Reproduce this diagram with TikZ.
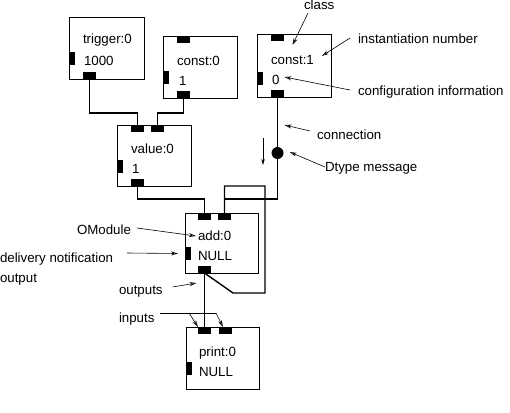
\documentclass[tikz,border=0pt]{standalone}
\usepackage{fontspec}
\setmainfont{Liberation Sans}
\usetikzlibrary{arrows.meta}
\begin{document}
\begin{tikzpicture}[x=1pt,y=-1pt,
  box/.style={draw, line width=0.8pt, anchor=north west, inner sep=0pt, outer sep=0pt},
  port/.style={fill=black, draw=none, anchor=north west, inner sep=0pt, outer sep=0pt, minimum width=13pt, minimum height=7pt},
  lport/.style={port, minimum width=6pt, minimum height=13pt},
  txt/.style={anchor=base west, inner sep=0pt, outer sep=0pt, font=\fontsize{13.3}{16}\selectfont},
  wire/.style={line width=1.4pt},
  pointer/.style={line width=0.6pt, -{Stealth[open, length=7pt, width=4pt]}},
  plain/.style={line width=0.6pt}]
\useasboundingbox (0,0) rectangle (510,412);

% ---------- boxes ----------
\node[box, minimum width=75pt, minimum height=62pt] (trig) at (69,17) {};
\node[box, minimum width=74pt, minimum height=62pt] (cz) at (163,36) {};
\node[box, minimum width=74pt, minimum height=61pt] (val) at (117,125) {};
\node[box, minimum width=74pt, minimum height=63pt] (co) at (257,34) {};
\node[box, minimum width=73pt, minimum height=60pt] (add) at (185,213) {};
\node[box, minimum width=73pt, minimum height=62pt] (prt) at (186,327) {};

% ---------- ports ----------
\node[lport] (trigL) at (69,52) {};
\node[port] (trigO) at (83,72) {};

\node[port] (czI) at (177,36) {};
\node[lport] (czL) at (163,71) {};
\node[port] (czO) at (177,91) {};

\node[port] (valI1) at (131,125) {};
\node[port] (valI2) at (151,125) {};
\node[lport] (valL) at (117,160) {};
\node[port] (valO) at (131,179) {};

\node[port] (coI) at (271,34) {};
\node[lport] (coL) at (257,72) {};
\node[port] (coO) at (271,90) {};

\node[port] (addI1) at (198,213) {};
\node[port] (addI2) at (218,213) {};
\node[lport] (addL) at (185,247) {};
\node[port] (addO) at (198,266) {};

\node[port] (prtI1) at (198,327) {};
\node[port] (prtI2) at (219,327) {};
\node[lport] (prtL) at (186,362) {};

% ---------- box texts ----------
\node[txt] (t1) at (83,44) {trigger:0};
\node[txt] (t2) at (84,65) {1000};
\node[txt] (t3) at (177,65) {const:0};
\node[txt] (t4) at (179,85) {1};
\node[txt] (t5) at (131,153) {value:0};
\node[txt] (t6) at (132,173) {1};
\node[txt] (t7) at (271,64) {const:1};
\node[txt] (t8) at (272,84) {0};
\node[txt] (t9) at (198,240) {add:0};
\node[txt] (t10) at (198,260) {NULL};
\node[txt] (t11) at (199,356) {print:0};
\node[txt] (t12) at (199,376) {NULL};

% ---------- connections ----------
\draw[wire] (trigO.south) -- ++(0,34) -| (valI1.north);
\draw[wire] (czO.south) -- ++(0,15) -| (valI2.north);
\draw[wire] (valO.south) -- ++(0,13) -| (addI1.north);
\draw[wire] (coO.south) -- ++(0,102) -| (addI2.north);
\coordinate (k1) at (233,293);
\coordinate (k2) at (265,186);
\draw[wire] (addO.south) -- (k1) -| (k2) -| (addI2.north);
\draw[wire] (addO.south) -- (prtI1.north);
\node[circle, fill=black, minimum size=12pt, inner sep=0pt] (msg) at (277.5,153) {};

% ---------- flow arrow ----------
\coordinate (fa) at (263,138);
\coordinate (fb) at (263,165);
\draw[line width=0.6pt, -{Stealth[length=6pt, width=3.5pt]}] (fa) -- (fb);

% ---------- annotation labels ----------
\node[txt] (cls) at (304,10) {class};
\node[txt] (inum) at (358,43) {instantiation number};
\node[txt] (conf) at (358,95) {configuration information};
\node[txt] (conn) at (317,139) {connection};
\node[txt] (dtm) at (325,171) {Dtype message};
\node[txt] (om) at (77,234) {OModule};
\node[txt] (dn) at (0,262) {delivery notification};
\node[txt] (outp) at (0,282) {output};
\node[txt] (outs) at (119,294) {outputs};
\node[txt] (ins) at (119,322) {inputs};

\draw[pointer] ([shift={(4,3)}]cls.base west) -- ([shift={(15,4)}]coI.south);
\draw[pointer] ([shift={(-8,-5)}]inum.base west) -- ([shift={(8,-8)}]t7.base east);
\draw[pointer] ([shift={(-8,-5)}]conf.base west) -- ([shift={(5,-7)}]t8.base east);
\draw[pointer] ([shift={(-7,-8)}]conn.base west) -- ([shift={(7,28)}]coO.south);
\draw[pointer] ([shift={(0,-4)}]dtm.base west) -- ([shift={(6,-1)}]msg.east);
\draw[pointer] ([shift={(6,-6)}]om.base east) -- ([shift={(-2,-4)}]t9.base west);
\draw[pointer] ([shift={(14,-9)}]dn.base east) -- ([shift={(-7,0)}]addL.west);
\draw[pointer] ([shift={(10,-7)}]outs.base east) -- ([shift={(-8,10)}]addO.south);
\coordinate (ib1) at (189,313);
\coordinate (ib2) at (216,313);
\draw[plain] ([shift={(6,-9)}]ins.base east) -- (ib2);
\draw[pointer] (ib1) -- (prtI1.north west);
\draw[pointer] (ib2) -- ([xshift=4pt]prtI2.north west);
\end{tikzpicture}
\end{document}
